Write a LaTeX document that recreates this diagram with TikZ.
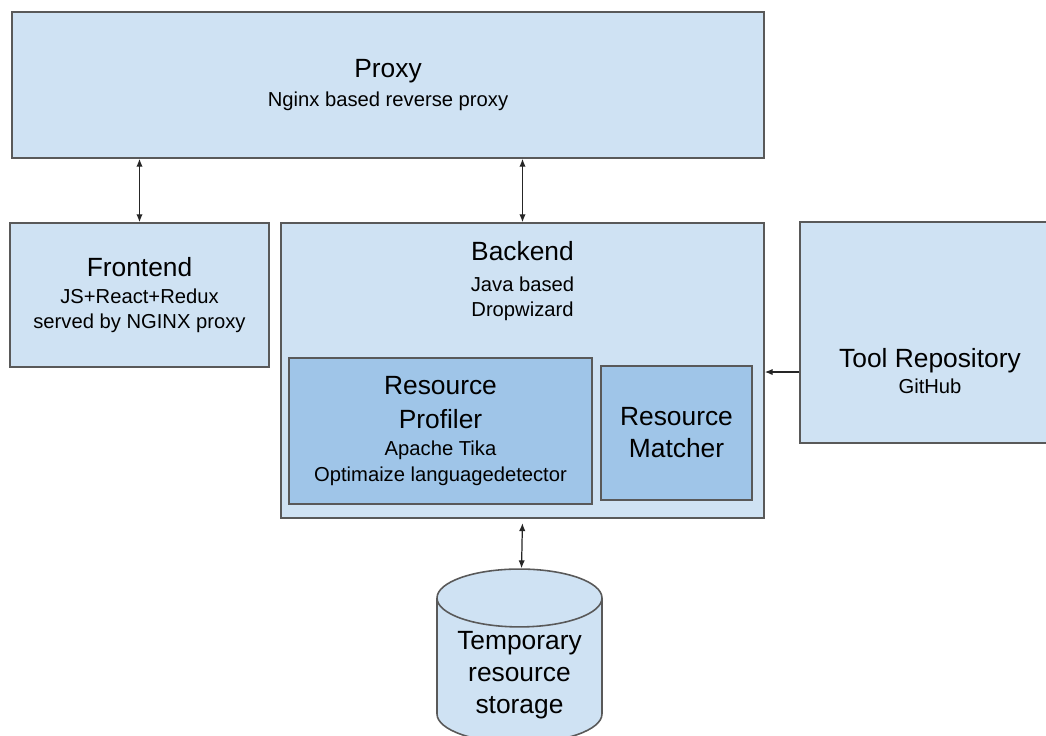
\documentclass[tikz,border=0pt]{standalone}
\usepackage{fontspec}
\setmainfont{Liberation Sans}
\usetikzlibrary{positioning,shapes.geometric,arrows.meta}
\definecolor{paleblue}{HTML}{CFE2F3}
\definecolor{midblue}{HTML}{9FC5E8}
\definecolor{edgegray}{HTML}{595959}
\newcommand{\bigtext}[1]{{\fontsize{15}{18}\selectfont #1}}
\tikzset{
  comp/.style={draw=edgegray,line width=0.9pt,fill=paleblue,align=center,inner sep=2pt,
    font=\fontsize{11.5}{14}\selectfont},
  subcomp/.style={comp,fill=midblue},
  link/.style={{Latex[length=4.5pt,width=3.6pt]}-{Latex[length=4.5pt,width=3.6pt]},line width=0.7pt,draw=black!85},
  feed/.style={-{Latex[length=4.5pt,width=3.6pt]},line width=0.7pt,draw=black!85},
}

\begin{document}
\begin{tikzpicture}[x=0.02cm,y=-0.02cm]
\useasboundingbox (0,0) rectangle (1046,736);
\clip (0,0) rectangle (1046,736);

% proxy and frontend
\node[comp,minimum width=15.04cm,minimum height=2.92cm] (proxy) at (388,85)
  {\bigtext{Proxy}\\[2.5pt] Nginx based reverse proxy};
\node[comp,minimum width=5.18cm,minimum height=2.88cm] (fe) at (139.5,295)
  {\bigtext{Frontend}\\[1.5pt] JS+React+Redux\\ served by NGINX proxy};

% backend with its parts
\node[comp,minimum width=9.66cm,minimum height=5.9cm] (bk) at (522.5,370.5)
  [label={[font=\fontsize{11.5}{14}\selectfont,align=center,anchor=north,yshift=-7.5pt]north:{\bigtext{Backend}\\[3.5pt] Java based\\ Dropwizard}}] {};
\node[subcomp,minimum width=6.06cm,minimum height=2.92cm] (prof) at (440.5,431)
  {\bigtext{Resource}\\[5.5pt] \bigtext{Profiler}\\[1.5pt] Apache Tika\\[1pt] Optimaize languagedetector};
\node[subcomp,minimum width=3.02cm,minimum height=2.68cm,font=\fontsize{15}{18.2}\selectfont] (match) at (676.5,433)
  {Resource\\ Matcher};

% tool repository
\node[comp,minimum width=5.04cm,minimum height=4.42cm] (tr) at (926,332.5)
  [label={[font=\fontsize{11.5}{14}\selectfont,align=center,xshift=0.08cm,yshift=-0.77cm]center:{\bigtext{Tool Repository}\\[1pt] GitHub}}] {};

% storage
\node[comp,cylinder,shape border rotate=90,aspect=0.44,minimum width=3.3cm,minimum height=3.28cm,
  font=\fontsize{15}{18.2}\selectfont] (store) at (519.5,675) {Temporary\\ resource\\ storage};

\draw[link] (fe.north) -- (fe.north |- proxy.south);
\draw[link] (bk.north) -- (bk.north |- proxy.south);
\coordinate (trin) at ([yshift=-22.5pt]tr.west);
\draw[feed] (trin) -- (trin -| bk.east);
\draw[link,shorten <=2.5pt] (bk.south) -- (store);
\end{tikzpicture}
\end{document}
